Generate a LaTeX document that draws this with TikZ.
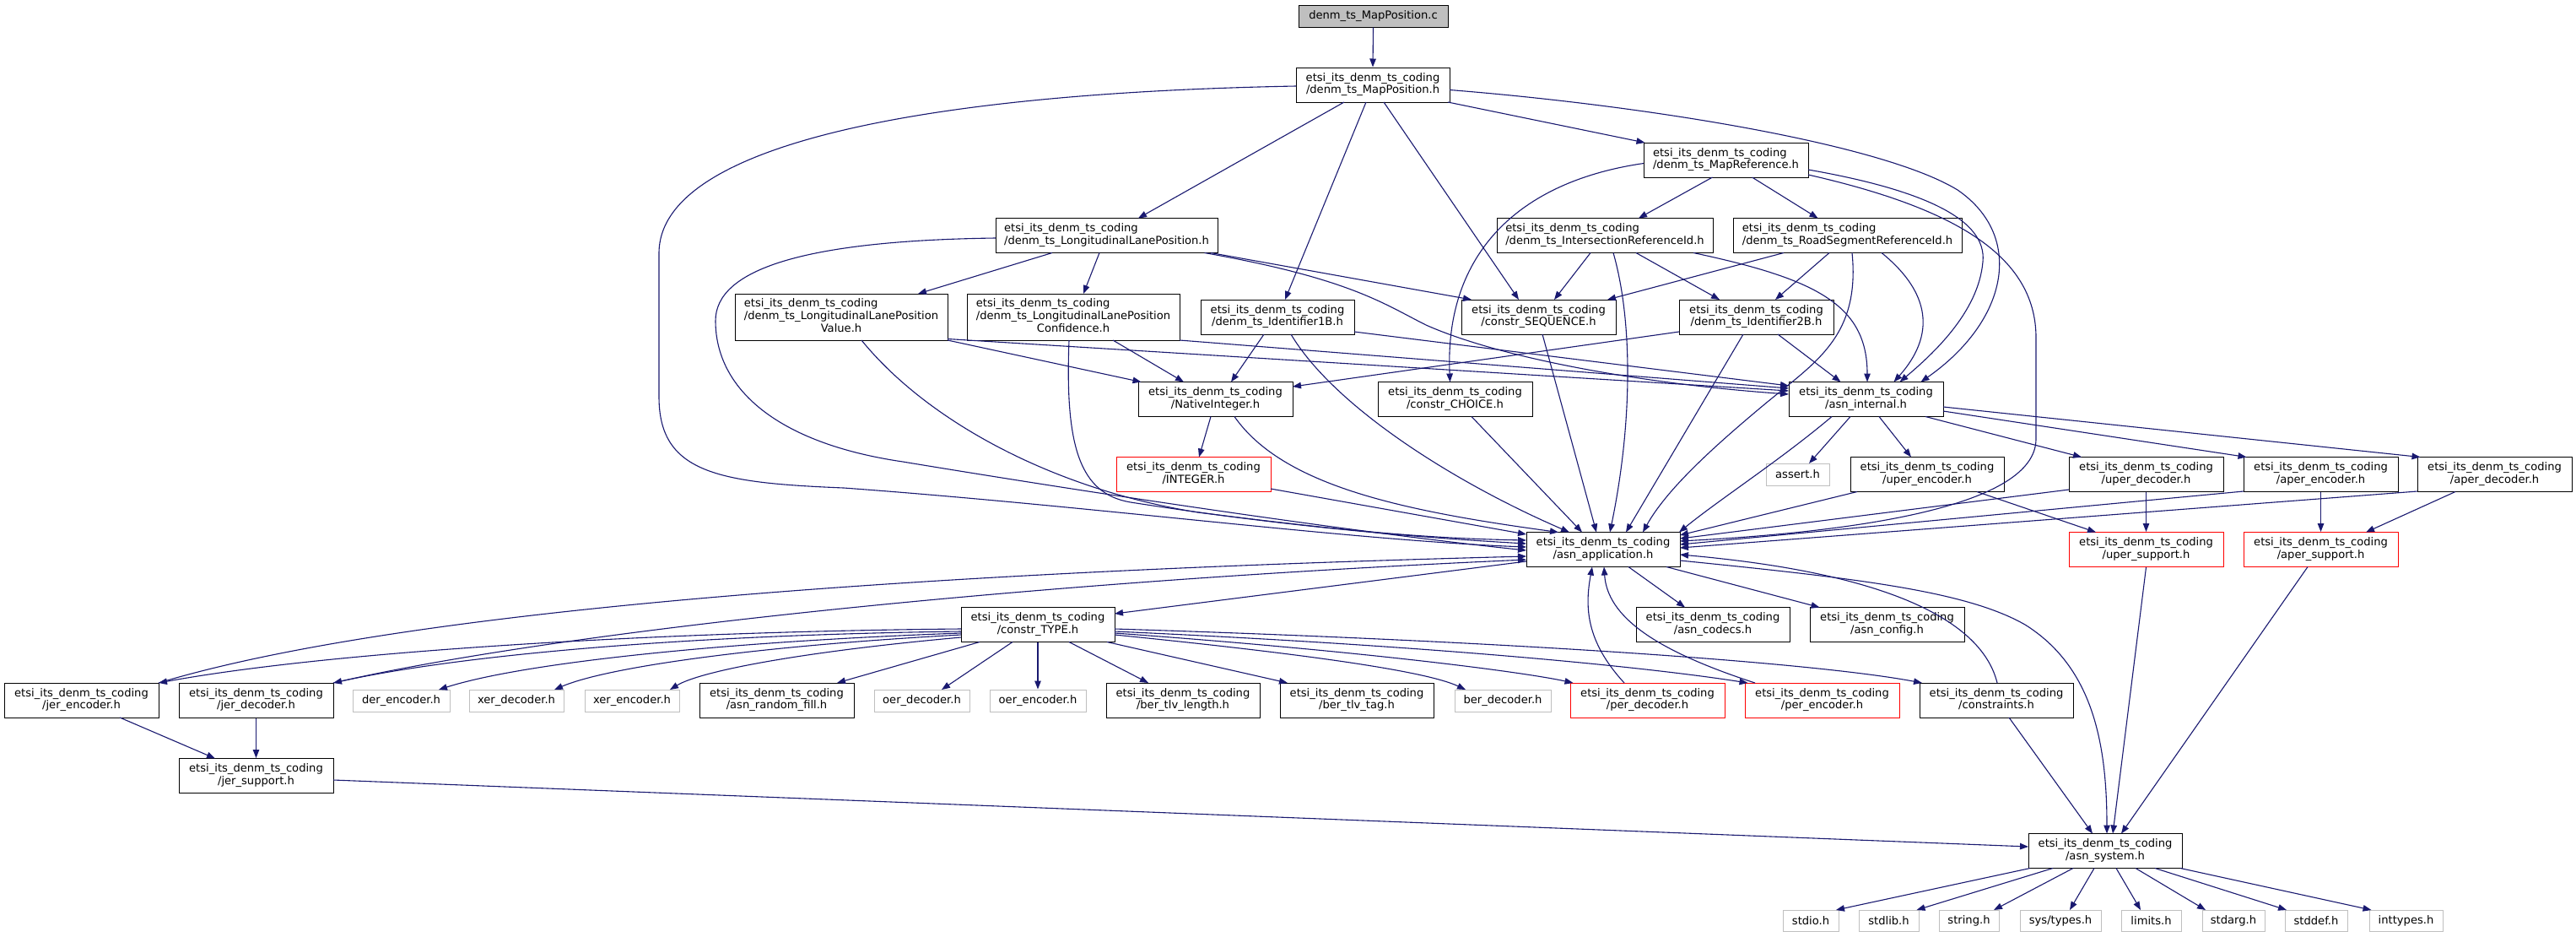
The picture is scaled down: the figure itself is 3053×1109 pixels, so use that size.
\documentclass[tikz,border=0pt]{standalone}
\usepackage{fontspec}
\setmainfont{DejaVu Sans}
\usetikzlibrary{arrows.meta,calc}
\definecolor{edgec}{HTML}{191970}
\definecolor{grayb}{HTML}{BFBFBF}
\newcommand{\lbl}{\fontsize{13.1}{14.6}\selectfont}
\newcommand{\twol}[2]{\begin{tabular}{@{}l@{}}#1\\\multicolumn{1}{@{}c@{}}{#2}\end{tabular}}
\newcommand{\threel}[3]{\begin{tabular}{@{}l@{}}#1\\#2\\\multicolumn{1}{@{}c@{}}{#3}\end{tabular}}
\newcommand{\pfx}{etsi\_its\_denm\_ts\_coding}
\begin{document}
\begin{tikzpicture}[x=1pt,y=-1pt,
  base/.style={line width=1pt,fill=white,inner sep=0pt,font=\lbl},
  nb/.style={base,draw=black,minimum height=41pt,minimum width=#1},
  rb/.style={base,draw=red,minimum height=41pt,minimum width=#1},
  gb/.style={base,draw=grayb,minimum height=26pt,minimum width=#1},
  sb/.style={base,draw=grayb,minimum height=25pt,minimum width=#1},
  topb/.style={base,draw=black,fill=grayb,minimum height=26pt,minimum width=#1},
  dep/.style={draw=edgec,line width=1.1pt,-{Triangle[length=10pt,width=7.5pt]},edgec}]
\useasboundingbox (0,0) rectangle (3053,1109);
\fill[white] (0,0) rectangle (3053,1109);
% nodes
\node[topb=177pt] (mpc) at (1627.5,19) {denm\_ts\_MapPosition.c};
\node[nb=182pt] (mph) at (1627,100.5) {\twol{\pfx}{/denm\_ts\_MapPosition.h}};
\node[nb=195pt] (mref) at (2045.5,189.5) {\twol{\pfx}{/denm\_ts\_MapReference.h}};
\node[nb=263pt] (llp) at (1311.5,279) {\twol{\pfx}{/denm\_ts\_LongitudinalLanePosition.h}};
\node[nb=256pt] (iref) at (1902,279) {\twol{\pfx}{/denm\_ts\_IntersectionReferenceId.h}};
\node[nb=271pt] (rseg) at (2189.5,279) {\twol{\pfx}{/denm\_ts\_RoadSegmentReferenceId.h}};
\node[nb=252pt,minimum height=55pt] (llpv) at (997,375.5) {\threel{\pfx}{/denm\_ts\_LongitudinalLanePosition}{Value.h}};
\node[nb=252pt,minimum height=55pt] (llpc) at (1272,375.5) {\threel{\pfx}{/denm\_ts\_LongitudinalLanePosition}{Confidence.h}};
\node[nb=182pt] (id1b) at (1514,375.5) {\twol{\pfx}{/denm\_ts\_Identifier1B.h}};
\node[nb=183pt] (cseq) at (1823.5,375.5) {\twol{\pfx}{/constr\_SEQUENCE.h}};
\node[nb=183pt] (id2b) at (2081.5,375.5) {\twol{\pfx}{/denm\_ts\_Identifier2B.h}};
\node[nb=183pt] (nint) at (1440.5,473) {\twol{\pfx}{/NativeInteger.h}};
\node[nb=183pt] (cchoice) at (1724.5,473) {\twol{\pfx}{/constr\_CHOICE.h}};
\node[nb=183pt] (aint) at (2211.5,473) {\twol{\pfx}{/asn\_internal.h}};
\node[rb=183pt] (integer) at (1414.5,562) {\twol{\pfx}{/INTEGER.h}};
\node[gb=75pt] (assert) at (2130.5,562) {assert.h};
\node[nb=182pt] (uenc) at (2284,562) {\twol{\pfx}{/uper\_encoder.h}};
\node[nb=183pt] (udec) at (2543.5,562) {\twol{\pfx}{/uper\_decoder.h}};
\node[nb=183pt] (aenc) at (2750.5,562) {\twol{\pfx}{/aper\_encoder.h}};
\node[nb=183pt] (adec) at (2956.5,562) {\twol{\pfx}{/aper\_decoder.h}};
\node[rb=183pt] (usup) at (2543.5,651) {\twol{\pfx}{/uper\_support.h}};
\node[rb=183pt] (asup) at (2750.5,651) {\twol{\pfx}{/aper\_support.h}};
\node[nb=182pt] (aapp) at (1900,651) {\twol{\pfx}{/asn\_application.h}};
\node[nb=182pt] (acodecs) at (2030,740) {\twol{\pfx}{/asn\_codecs.h}};
\node[nb=183pt] (aconfig) at (2236.5,740) {\twol{\pfx}{/asn\_config.h}};
\node[nb=182pt] (ctype) at (1230,740) {\twol{\pfx}{/constr\_TYPE.h}};
\node[nb=183pt] (jenc) at (96.5,829.5) {\twol{\pfx}{/jer\_encoder.h}};
\node[nb=183pt] (jdec) at (303.5,829.5) {\twol{\pfx}{/jer\_decoder.h}};
\node[gb=115pt] (derenc) at (475.5,830) {der\_encoder.h};
\node[gb=112pt] (xerdec) at (612,830) {xer\_decoder.h};
\node[gb=112pt] (xerenc) at (749,830) {xer\_encoder.h};
\node[nb=183pt] (arf) at (920.5,829.5) {\twol{\pfx}{/asn\_random\_fill.h}};
\node[gb=113pt] (oerdec) at (1092.5,830) {oer\_decoder.h};
\node[gb=114pt] (oerenc) at (1230,830) {oer\_encoder.h};
\node[nb=182pt] (btl) at (1402,829.5) {\twol{\pfx}{/ber\_tlv\_length.h}};
\node[nb=182pt] (btt) at (1608,829.5) {\twol{\pfx}{/ber\_tlv\_tag.h}};
\node[gb=114pt] (berdec) at (1781,830) {ber\_decoder.h};
\node[rb=183pt] (perdec) at (1952.5,829.5) {\twol{\pfx}{/per\_decoder.h}};
\node[rb=183pt] (perenc) at (2159.5,829.5) {\twol{\pfx}{/per\_encoder.h}};
\node[nb=182pt] (cons) at (2366,829.5) {\twol{\pfx}{/constraints.h}};
\node[nb=183pt] (jsup) at (303.5,919) {\twol{\pfx}{/jer\_support.h}};
\node[nb=182pt] (asys) at (2495,1008) {\twol{\pfx}{/asn\_system.h}};
\node[sb=66pt] (stdio) at (2146,1090.5) {stdio.h};
\node[sb=71pt] (stdlib) at (2238.5,1090.5) {stdlib.h};
\node[sb=71pt] (string) at (2333.5,1090.5) {string.h};
\node[sb=96pt] (systypes) at (2442,1090.5) {sys/types.h};
\node[sb=71pt] (limits) at (2549.5,1090.5) {limits.h};
\node[sb=74pt] (stdarg) at (2647,1090.5) {stdarg.h};
\node[sb=74pt] (stddef) at (2745,1090.5) {stddef.h};
\node[sb=87pt] (inttypes) at (2851.5,1090.5) {inttypes.h};
% edges
\draw[dep] (mpc.south) -- (mph.north);
\draw[dep] ($(mph)+(-34,20.5)$) -- ($(llp)+(37.5,-20.5)$);
\draw[dep] ($(mph)+(-8,20.5)$) -- ($(id1b)+(9,-20.5)$);
\draw[dep] ($(mph)+(13,20.5)$) -- ($(cseq)+(-23.5,-20.5)$);
\draw[dep] ($(mph)+(89,20.5)$) -- ($(mref)+(-96,-20.5)$);
\draw[dep] ($(mph)+(-91,1.5)$) .. controls (1100,110) and (781,170) .. (781,300) -- (781,470) .. controls (781,560) and (850,572) .. (1000,578) .. controls (1300,600) and (1600,640) .. ($(aapp)+(-91,-3)$);
\draw[dep] ($(mph)+(91,6)$) .. controls (1950,125) and (2230,170) .. (2320,225) .. controls (2400,280) and (2380,380) .. ($(aint)+(65,-20.5)$);
\draw[dep] ($(mref)+(-16,20.5)$) -- ($(iref)+(40,-20.5)$);
\draw[dep] ($(mref)+(31,20.5)$) -- ($(rseg)+(-35,-20.5)$);
\draw[dep] ($(mref)+(-97.5,4)$) .. controls (1800,215) and (1712,300) .. ($(cchoice)+(-6,-20.5)$);
\draw[dep] ($(mref)+(97.5,11.5)$) .. controls (2280,225) and (2355,260) .. (2350,310) .. controls (2345,370) and (2290,420) .. ($(aint)+(40,-20.5)$);
\draw[dep] ($(mref)+(97.5,17.5)$) .. controls (2310,245) and (2413,300) .. (2413,400) -- (2413,520) .. controls (2413,600) and (2200,630) .. ($(aapp)+(91,-10)$);
\draw[dep] ($(iref)+(-17,20.5)$) -- ($(cseq)+(18.5,-20.5)$);
\draw[dep] ($(iref)+(10,20.5)$) .. controls (1935,380) and (1935,500) .. ($(aapp)+(8,-20.5)$);
\draw[dep] ($(iref)+(37,20.5)$) -- ($(id2b)+(-43.5,-20.5)$);
\draw[dep] ($(iref)+(105,20.5)$) .. controls (2150,330) and (2213,360) .. ($(aint)+(1.5,-20.5)$);
\draw[dep] ($(rseg)+(-75.5,20.5)$) -- ($(cseq)+(81.5,-20.5)$);
\draw[dep] ($(rseg)+(-21.5,20.5)$) -- ($(id2b)+(22.5,-20.5)$);
\draw[dep] ($(rseg)+(5.5,20.5)$) .. controls (2205,400) and (2150,430) .. (2090,480) .. controls (2030,530) and (1975,580) .. ($(aapp)+(47,-20.5)$);
\draw[dep] ($(rseg)+(40.5,20.5)$) .. controls (2280,340) and (2300,390) .. ($(aint)+(33,-20.5)$);
\draw[dep] ($(id2b)+(-91.5,17.5)$) -- ($(nint)+(91.5,-15)$);
\draw[dep] ($(id2b)+(25.5,20.5)$) -- ($(aint)+(-30,-20.5)$);
\draw[dep] ($(id2b)+(-15.5,20.5)$) -- ($(aapp)+(27,-20.5)$);
\draw[dep] ($(cseq)+(4.5,20.5)$) -- ($(aapp)+(-8,-20.5)$);
\draw[dep] ($(cchoice)+(19.5,20.5)$) -- ($(aapp)+(-25,-20.5)$);
\draw[dep] ($(id1b)+(-16,20.5)$) -- ($(nint)+(18.5,-20.5)$);
\draw[dep] ($(id1b)+(16,20.5)$) .. controls (1580,480) and (1720,570) .. ($(aapp)+(-40,-20.5)$);
\draw[dep] ($(id1b)+(91,17.5)$) -- ($(aint)+(-91.5,-16)$);
\draw[dep] ($(llp)+(-64.5,20.5)$) -- ($(llpv)+(91,-27.5)$);
\draw[dep] ($(llp)+(-8.5,20.5)$) -- ($(llpc)+(12,-27.5)$);
\draw[dep] ($(llp)+(123.5,20.5)$) -- ($(cseq)+(-79.5,-20.5)$);
\draw[dep] ($(llp)+(116,20.5)$) .. controls (1600,330) and (1640,360) .. (1690,385) .. controls (1780,425) and (1950,455) .. ($(aint)+(-91.5,-6)$);
\draw[dep] ($(llp)+(-131.5,3)$) .. controls (950,285) and (848,320) .. (848,380) .. controls (848,460) and (920,525) .. (1070,547) .. controls (1300,585) and (1600,630) .. ($(aapp)+(-91,1)$);
\draw[dep] ($(llpv)+(126,27.5)$) -- ($(nint)+(-88,-20.5)$);
\draw[dep] ($(llpv)+(126,26)$) -- ($(aint)+(-91.5,-10)$);
\draw[dep] ($(llpv)+(24,27.5)$) .. controls (1100,500) and (1250,580) .. (1420,607) .. controls (1600,630) and (1700,638) .. ($(aapp)+(-91,-11)$);
\draw[dep] ($(llpc)+(47,27.5)$) -- ($(nint)+(-37.5,-20.5)$);
\draw[dep] ($(llpc)+(-5,27.5)$) .. controls (1262,530) and (1280,585) .. (1340,595) .. controls (1500,620) and (1650,635) .. ($(aapp)+(-91,-7)$);
\draw[dep] ($(llpc)+(126,27.5)$) -- ($(aint)+(-91.5,-13)$);
\draw[dep] ($(nint)+(-5.5,20.5)$) -- ($(integer)+(6.5,-20.5)$);
\draw[dep] ($(nint)+(22.5,20.5)$) .. controls (1520,575) and (1660,605) .. ($(aapp)+(-53,-20.5)$);
\draw[dep] ($(integer)+(91.5,17)$) -- ($(aapp)+(-91,-18)$);
\draw[dep] ($(aint)+(-18.5,20.5)$) -- ($(assert)+(13.5,-13)$);
\draw[dep] ($(aint)+(15.5,20.5)$) -- ($(uenc)+(-19,-20.5)$);
\draw[dep] ($(aint)+(70.5,20.5)$) -- ($(udec)+(-76.5,-20.5)$);
\draw[dep] ($(aint)+(91.5,14)$) -- ($(aenc)+(-88,-20.5)$);
\draw[dep] ($(aint)+(91.5,9)$) -- ($(adec)+(-88,-20.5)$);
\draw[dep] ($(aint)+(-40.5,20.5)$) .. controls (2110,545) and (2040,590) .. ($(aapp)+(90,-20.5)$);
\draw[dep] ($(uenc)+(-83,20.5)$) -- ($(aapp)+(91,-17)$);
\draw[dep] ($(uenc)+(59,20.5)$) -- ($(usup)+(-59.5,-20.5)$);
\draw[dep] ($(udec)+(-91.5,18)$) -- ($(aapp)+(91,-13)$);
\draw[dep] (udec.south) -- (usup.north);
\draw[dep] ($(aenc)+(-91.5,20)$) -- ($(aapp)+(91,-6)$);
\draw[dep] (aenc.south) -- (asup.north);
\draw[dep] ($(adec)+(-91.5,20)$) -- ($(aapp)+(91,-2)$);
\draw[dep] ($(adec)+(-46.5,20.5)$) -- ($(asup)+(53.5,-20.5)$);
\draw[dep] (usup.south) -- ($(asys)+(9,-20.5)$);
\draw[dep] ($(asup)+(-15.5,20.5)$) -- ($(asys)+(19,-20.5)$);
\draw[dep] ($(aapp)+(-91,14)$) -- ($(ctype)+(91,-13)$);
\draw[dep] ($(aapp)+(30,20.5)$) -- ($(acodecs)+(-33,-20.5)$);
\draw[dep] ($(aapp)+(75,20.5)$) -- ($(aconfig)+(-80,-20.5)$);
\draw[dep] ($(aapp)+(91,13)$) .. controls (2200,685) and (2330,700) .. (2400,740) .. controls (2480,790) and (2497,880) .. ($(asys)+(2,-20.5)$);
\draw[dep] ($(cons)+(1,-20.5)$) .. controls (2350,740) and (2250,680) .. ($(aapp)+(91,6)$);
\draw[dep] ($(cons)+(15,20.5)$) -- ($(asys)+(-15,-20.5)$);
\draw[dep] ($(perdec)+(-27.5,-20.5)$) .. controls (1880,760) and (1878,720) .. ($(aapp)+(-13,20.5)$);
\draw[dep] ($(perenc)+(-79.5,-20.5)$) .. controls (1960,770) and (1905,730) .. ($(aapp)+(1,20.5)$);
\draw[dep] ($(ctype)+(-91,5)$) .. controls (800,748) and (400,770) .. ($(jenc)+(91.5,-20.5)$);
\draw[dep] ($(ctype)+(-91,8)$) .. controls (820,752) and (550,775) .. ($(jdec)+(91.5,-20.5)$);
\draw[dep] ($(ctype)+(-91,10)$) .. controls (860,760) and (620,785) .. ($(derenc)+(44.5,-13)$);
\draw[dep] ($(ctype)+(-91,12)$) .. controls (900,765) and (720,790) .. ($(xerdec)+(45,-13)$);
\draw[dep] ($(ctype)+(-91,15)$) .. controls (950,772) and (830,795) .. ($(xerenc)+(45,-13)$);
\draw[dep] ($(ctype)+(-69,20.5)$) -- ($(arf)+(71.5,-20.5)$);
\draw[dep] ($(ctype)+(-30,20.5)$) -- ($(oerdec)+(23.5,-13)$);
\draw[dep] (ctype.south) -- (oerenc.north);
\draw[dep] ($(ctype)+(37,20.5)$) -- ($(btl)+(-41,-20.5)$);
\draw[dep] ($(ctype)+(82,20.5)$) -- ($(btt)+(-82,-20.5)$);
\draw[dep] ($(ctype)+(91,12)$) .. controls (1550,775) and (1690,795) .. ($(berdec)+(-44,-13)$);
\draw[dep] ($(ctype)+(91,10)$) .. controls (1600,770) and (1800,795) .. ($(perdec)+(-88,-20.5)$);
\draw[dep] ($(ctype)+(91,8)$) .. controls (1700,765) and (1950,790) .. ($(perenc)+(-88,-20.5)$);
\draw[dep] ($(ctype)+(91,5)$) .. controls (1800,760) and (2150,785) .. ($(cons)+(-88,-20.5)$);
\draw[dep] ($(jenc)+(91.5,-20.5)$) .. controls (450,730) and (1000,680) .. ($(aapp)+(-91,8)$);
\draw[dep] ($(jdec)+(91.5,-20.5)$) .. controls (650,750) and (1200,690) .. ($(aapp)+(-91,12)$);
\draw[dep] ($(jenc)+(45.5,20.5)$) -- ($(jsup)+(-48.5,-20.5)$);
\draw[dep] (jdec.south) -- (jsup.north);
\draw[dep] ($(jsup)+(91.5,5)$) -- ($(asys)+(-91,-5)$);
\draw[dep] ($(asys)+(-89,20.5)$) -- ($(stdio)+(30,-12.5)$);
\draw[dep] ($(asys)+(-62,20.5)$) -- ($(stdlib)+(33,-12.5)$);
\draw[dep] ($(asys)+(-38,20.5)$) -- ($(string)+(29.5,-12.5)$);
\draw[dep] ($(asys)+(-13,20.5)$) -- ($(systypes)+(11,-12.5)$);
\draw[dep] ($(asys)+(13,20.5)$) -- ($(limits)+(-12.5,-12.5)$);
\draw[dep] ($(asys)+(36,20.5)$) -- ($(stdarg)+(-33,-12.5)$);
\draw[dep] ($(asys)+(59,20.5)$) -- ($(stddef)+(-35,-12.5)$);
\draw[dep] ($(asys)+(89,20.5)$) -- ($(inttypes)+(-41,-12.5)$);
\end{tikzpicture}
\end{document}
